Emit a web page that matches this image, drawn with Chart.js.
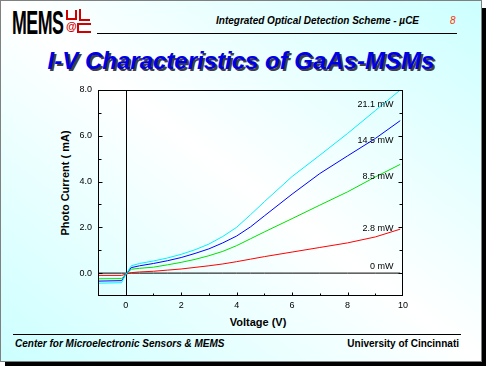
<!DOCTYPE html>
<html>
<head>
<meta charset="utf-8">
<script src="https://cdn.jsdelivr.net/npm/chart.js@4/dist/chart.umd.min.js"></script>
<style>
  html, body { margin: 0; padding: 0; background: #fff; }
  body { width: 486px; height: 366px; position: relative; overflow: hidden;
         font-family: Arial, "Liberation Sans", sans-serif; }
  .ombre { position: absolute; left: 5px; top: 8px; width: 481px; height: 358px; background: #000; }
  .diapo { position: absolute; left: 0; top: 0; width: 482px; height: 362px; box-sizing: border-box;
           border: 1px solid #808080;
           background: linear-gradient(to bottom left, #ccffff 0%, #ffffff 50%, #ccffff 100%); }
  .txt { position: absolute; white-space: nowrap; line-height: 1; }
  .trait { position: absolute; height: 1px; background: #000; }
  #logo { left: 12px; top: 6px; font-size: 33px; font-weight: bold; letter-spacing: -1px;
          transform: scaleX(0.54); transform-origin: left top; }
  .rouge { position: absolute; border-color: #d00000; border-style: solid; }
  #entete { left: 216px; top: 16px; font-size: 10px; font-weight: bold; font-style: italic; }
  #page { left: 450px; top: 16px; font-size: 10px; font-style: italic; color: #ff3300; }
  #titre { left: 0; width: 482px; text-align: center; top: 49px; font-size: 24px; font-weight: bold;
           font-style: italic; color: #0000e6; text-shadow: 2px 2px 0 #404040; }
  #titreY { left: 65px; top: 183px; font-size: 11px; font-weight: bold;
            transform: translate(-50%, -50%) rotate(-90deg); }
  #titreX { left: 258px; top: 322px; font-size: 11px; font-weight: bold; transform: translate(-50%, -50%); }
  #pied1 { left: 15px; top: 339px; font-size: 10px; font-weight: bold; font-style: italic; }
  #pied2 { right: 27px; top: 339px; font-size: 10px; font-weight: bold; }
  canvas { position: absolute; left: 0; top: 0; }
</style>
</head>
<body>
<div class="ombre"></div>
<div class="diapo"></div>

<div class="txt" id="logo">MEMS</div>
<!-- petit logo rouge UC -->
<div class="rouge" style="left:66px;top:10px;width:7px;height:8px;border-width:0 2px 2px 2px;"></div>
<div class="rouge" style="left:79px;top:9px;width:0;height:10px;border-width:0 0 0 2px;"></div>
<div class="rouge" style="left:79px;top:19px;width:11px;height:0;border-width:2px 0 0 0;"></div>
<div class="txt" style="left:66px;top:21px;font-size:11px;font-weight:bold;color:#d00000;">@</div>
<div class="rouge" style="left:77px;top:23px;width:12px;height:6px;border-width:2px 0 2px 2px;"></div>

<div class="txt" id="entete">Integrated Optical Detection Scheme - µCE</div>
<div class="txt" id="page">8</div>
<div class="trait" style="left:97px;top:33px;width:360px;"></div>

<div class="txt" id="titre">I-V Characteristics of GaAs-MSMs</div>

<div class="txt" id="titreY">Photo Current ( mA)</div>
<div class="txt" id="titreX">Voltage (V)</div>

<div class="trait" style="left:13px;top:334px;width:448px;"></div>
<div class="txt" id="pied1">Center for Microelectronic Sensors &amp; MEMS</div>
<div class="txt" id="pied2">University of Cincinnati</div>

<canvas id="graphique" width="486" height="366"></canvas>

<script>
// Tension (V) commune à toutes les courbes
const tensions = [-1, -0.15, 0, 0.2, 0.5, 1, 1.5, 2, 2.5, 3, 3.5, 4, 4.5, 5, 6, 7, 8, 9, 9.9];

// Photocourant (mA) pour chaque puissance optique
const courant211 = [-0.44, -0.42, -0.07, 0.32, 0.42, 0.53, 0.66, 0.82, 1.02, 1.27, 1.6, 2.0, 2.55, 3.12, 4.22, 5.15, 6.1, 7.1, 8.0];
const courant145 = [-0.35, -0.33, -0.07, 0.24, 0.32, 0.42, 0.54, 0.68, 0.86, 1.06, 1.32, 1.62, 2.02, 2.5, 3.45, 4.35, 5.12, 5.88, 6.66];
const courant85  = [-0.25, -0.24, -0.07, 0.17, 0.21, 0.26, 0.36, 0.47, 0.6, 0.76, 0.95, 1.2, 1.5, 1.8, 2.38, 2.97, 3.55, 4.2, 4.75];
const courant28  = [-0.10, -0.10, -0.05, 0.02, 0.05, 0.08, 0.13, 0.18, 0.25, 0.32, 0.4, 0.5, 0.61, 0.72, 0.92, 1.12, 1.32, 1.58, 1.92];
const courant0   = [0, 0, 0, 0, 0, 0, 0, 0, 0, 0, 0, 0, 0, 0, 0, 0, 0, 0, 0];

// Étiquettes des courbes et hauteur (mA) où elles sont posées
const etiquettes = ['21.1 mW', '14.5 mW', '8.5 mW', '2.8 mW', '0 mW'];
const etiquettesY = [7.37, 5.80, 4.22, 1.96, 0.29];
const etiquetteX = 9.66;

// Graduations
const xMin = -1, xMax = 10;
const yMin = -1, yMax = 8;

function points(valeurs) {
  return tensions.map((t, i) => ({ x: t, y: valeurs[i] }));
}

function serie(label, valeurs, couleur) {
  return {
    label: label,
    data: points(valeurs),
    borderColor: couleur,
    borderWidth: 1,
    pointRadius: 0,
    tension: 0
  };
}

// Cadre noir, axe V = 0, petites graduations intérieures et étiquettes des courbes
const cadre = {
  id: 'cadre',
  beforeDatasetsDraw(chart) {
    const { ctx, chartArea: a, scales: { x } } = chart;
    const x0 = Math.round(x.getPixelForValue(0)) + 0.5;
    ctx.save();
    ctx.strokeStyle = '#000';
    ctx.lineWidth = 1;
    ctx.beginPath();
    ctx.moveTo(x0, a.top);
    ctx.lineTo(x0, a.bottom);
    ctx.stroke();
    ctx.restore();
  },
  afterDatasetsDraw(chart) {
    const { ctx, chartArea: a, scales: { x, y } } = chart;
    const g = Math.round(a.left) + 0.5, d = Math.round(a.right) - 0.5;
    const h = Math.round(a.top) + 0.5, b = Math.round(a.bottom) - 0.5;
    ctx.save();
    ctx.strokeStyle = '#000';
    ctx.lineWidth = 1;
    ctx.strokeRect(g, h, d - g, b - h);
    ctx.beginPath();
    for (let v = yMin + 1; v < yMax; v++) {
      const py = Math.round(y.getPixelForValue(v)) + 0.5;
      const l = v % 2 === 0 ? 4 : 3;
      ctx.moveTo(g, py); ctx.lineTo(g + l, py);
      ctx.moveTo(d, py); ctx.lineTo(d - l, py);
    }
    for (let v = xMin + 1; v < xMax; v++) {
      const px = Math.round(x.getPixelForValue(v)) + 0.5;
      const l = v % 2 === 0 ? 3 : 2;
      ctx.moveTo(px, b); ctx.lineTo(px, b - l);
    }
    ctx.stroke();

    ctx.fillStyle = '#000';
    ctx.font = '9px Arial, "Liberation Sans", sans-serif';
    ctx.textAlign = 'right';
    ctx.textBaseline = 'middle';
    etiquettes.forEach((texte, i) => {
      ctx.fillText(texte, x.getPixelForValue(etiquetteX), y.getPixelForValue(etiquettesY[i]));
    });
    ctx.restore();
  }
};

const policeGraduations = { family: 'Arial, "Liberation Sans", sans-serif', size: 9 };

new Chart(document.getElementById('graphique'), {
  type: 'line',
  data: {
    datasets: [
      serie('21.1 mW', courant211, '#00f0ff'),
      serie('14.5 mW', courant145, '#0000ff'),
      serie('8.5 mW', courant85, '#00e000'),
      serie('2.8 mW', courant28, '#ff0000'),
      serie('0 mW', courant0, '#000000')
    ]
  },
  options: {
    responsive: false,
    animation: false,
    layout: { padding: { left: 0, top: 90, right: 83, bottom: 0 } },
    plugins: { legend: { display: false }, tooltip: { enabled: false } },
    scales: {
      x: {
        type: 'linear',
        min: xMin,
        max: xMax,
        afterFit: s => { s.height = 70; },
        grid: { display: false, drawTicks: false },
        border: { display: false },
        ticks: {
          stepSize: 1,
          autoSkip: false,
          maxRotation: 0,
          padding: 4,
          color: '#000',
          font: policeGraduations,
          callback: v => (v >= 0 && v % 2 === 0 ? String(v) : '')
        }
      },
      y: {
        min: yMin,
        max: yMax,
        afterFit: s => { s.width = 98; },
        grid: { display: false, drawTicks: false },
        border: { display: false },
        ticks: {
          stepSize: 1,
          autoSkip: false,
          padding: 6,
          color: '#000',
          font: policeGraduations,
          callback: v => (v >= 0 && v % 2 === 0 ? v.toFixed(1) : '')
        }
      }
    }
  },
  plugins: [cadre]
});
</script>
</body>
</html>
